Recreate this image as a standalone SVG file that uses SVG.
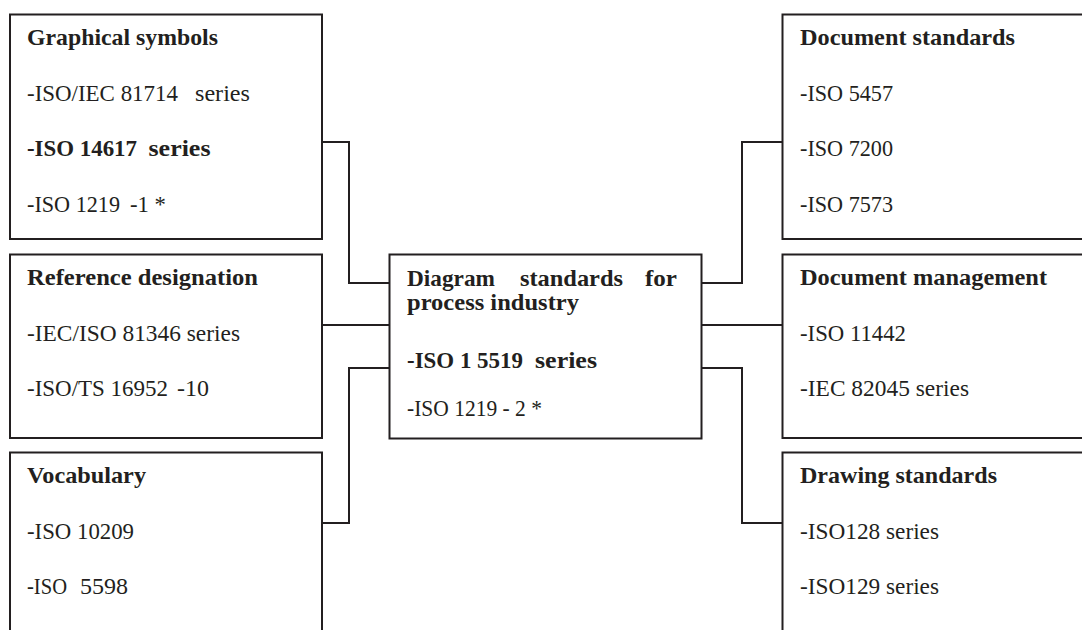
<svg xmlns="http://www.w3.org/2000/svg" width="1082" height="630" viewBox="0 0 1082 630">
  <style>
    .box { fill: #ffffff; stroke: #231f20; stroke-width: 2; }
    .wire { fill: none; stroke: #231f20; stroke-width: 2; }
    text { font-family: "Liberation Serif", "Times New Roman", serif; font-size: 23px; fill: #231f20; }
    .t { font-weight: bold; }
  </style>
  <rect width="1082" height="630" fill="#ffffff"/>

  <!-- connectors -->
  <g id="connectors">
    <polyline class="wire" points="322,142 349,142 349,283 389.5,283"/>
    <line class="wire" x1="322" y1="325" x2="389.5" y2="325"/>
    <polyline class="wire" points="389.5,368 349,368 349,523 322,523"/>
    <polyline class="wire" points="701.5,283 742,283 742,142 782.5,142"/>
    <line class="wire" x1="701.5" y1="325" x2="782.5" y2="325"/>
    <polyline class="wire" points="701.5,368 742,368 742,523 782.5,523"/>
  </g>

  <!-- left column -->
  <g id="graphical-symbols">
    <rect class="box" x="10" y="14.5" width="312" height="224.5"/>
    <text class="t" x="27" y="44.5" textLength="191" lengthAdjust="spacingAndGlyphs">Graphical symbols</text>
    <text y="100.5"><tspan x="27" textLength="151" lengthAdjust="spacingAndGlyphs">-ISO/IEC 81714</tspan><tspan x="195" textLength="55" lengthAdjust="spacingAndGlyphs">series</tspan></text>
    <text class="t" y="156"><tspan x="27" textLength="110" lengthAdjust="spacingAndGlyphs">-ISO 14617</tspan><tspan x="148.5" textLength="62" lengthAdjust="spacingAndGlyphs">series</tspan></text>
    <text y="211.5"><tspan x="27" textLength="93" lengthAdjust="spacingAndGlyphs">-ISO 1219</tspan><tspan x="130" textLength="36" lengthAdjust="spacingAndGlyphs">-1 *</tspan></text>
  </g>

  <g id="reference-designation">
    <rect class="box" x="10" y="254.5" width="312" height="183.5"/>
    <text class="t" x="27" y="285" textLength="231" lengthAdjust="spacingAndGlyphs">Reference designation</text>
    <text x="27" y="340.5" textLength="213" lengthAdjust="spacingAndGlyphs">-IEC/ISO 81346 series</text>
    <text y="396"><tspan x="27" textLength="141" lengthAdjust="spacingAndGlyphs">-ISO/TS 16952</tspan><tspan x="177" textLength="32" lengthAdjust="spacingAndGlyphs">-10</tspan></text>
  </g>

  <g id="vocabulary">
    <rect class="box" x="10" y="452.5" width="312" height="200"/>
    <text class="t" x="27" y="482.5" textLength="119" lengthAdjust="spacingAndGlyphs">Vocabulary</text>
    <text x="27" y="538.5" textLength="107" lengthAdjust="spacingAndGlyphs">-ISO 10209</text>
    <text y="593.5"><tspan x="27" textLength="40" lengthAdjust="spacingAndGlyphs">-ISO</tspan><tspan x="80" textLength="48" lengthAdjust="spacingAndGlyphs">5598</tspan></text>
  </g>

  <!-- centre -->
  <g id="diagram-standards">
    <rect class="box" x="389.5" y="254.5" width="312" height="184"/>
    <text class="t" y="286"><tspan x="407" textLength="88" lengthAdjust="spacingAndGlyphs">Diagram</tspan><tspan x="520" textLength="103" lengthAdjust="spacingAndGlyphs">standards</tspan><tspan x="645" textLength="32" lengthAdjust="spacingAndGlyphs">for</tspan></text>
    <text class="t" x="407" y="309.5" textLength="172" lengthAdjust="spacingAndGlyphs">process industry</text>
    <text class="t" y="367.5"><tspan x="407" textLength="116" lengthAdjust="spacingAndGlyphs">-ISO 1 5519</tspan><tspan x="535" textLength="62" lengthAdjust="spacingAndGlyphs">series</tspan></text>
    <text x="407" y="416" textLength="135" lengthAdjust="spacingAndGlyphs">-ISO 1219 - 2 *</text>
  </g>

  <!-- right column -->
  <g id="document-standards">
    <rect class="box" x="782.5" y="14.5" width="310" height="224.5"/>
    <text class="t" x="800" y="44.5" textLength="215" lengthAdjust="spacingAndGlyphs">Document standards</text>
    <text x="800" y="100.5" textLength="93" lengthAdjust="spacingAndGlyphs">-ISO 5457</text>
    <text x="800" y="156" textLength="93" lengthAdjust="spacingAndGlyphs">-ISO 7200</text>
    <text x="800" y="211.5" textLength="93" lengthAdjust="spacingAndGlyphs">-ISO 7573</text>
  </g>

  <g id="document-management">
    <rect class="box" x="782.5" y="254.5" width="310" height="183.5"/>
    <text class="t" x="800" y="285" textLength="247" lengthAdjust="spacingAndGlyphs">Document management</text>
    <text x="800" y="340.5" textLength="106" lengthAdjust="spacingAndGlyphs">-ISO 11442</text>
    <text x="800" y="396" textLength="169" lengthAdjust="spacingAndGlyphs">-IEC 82045 series</text>
  </g>

  <g id="drawing-standards">
    <rect class="box" x="782.5" y="452.5" width="310" height="200"/>
    <text class="t" x="800" y="482.5" textLength="197" lengthAdjust="spacingAndGlyphs">Drawing standards</text>
    <text x="800" y="538.5" textLength="139" lengthAdjust="spacingAndGlyphs">-ISO128 series</text>
    <text x="800" y="593.5" textLength="139" lengthAdjust="spacingAndGlyphs">-ISO129 series</text>
  </g>
</svg>
